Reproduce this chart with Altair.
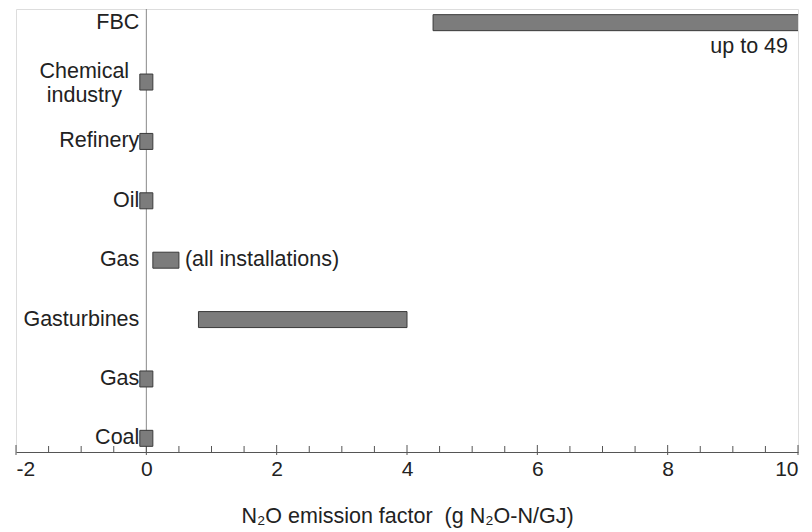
import altair as alt
import pandas as pd

# ---- data ----
row_ids = ["fbc", "chem", "refinery", "oil", "gas_all", "gasturbines", "gas", "coal"]
row_labels = ["FBC", "Chemical\nindustry", "Refinery", "Oil", "Gas", "Gasturbines", "Gas", "Coal"]
range_low = [4.4, -0.1, -0.1, -0.1, 0.1, 0.8, -0.1, -0.1]
range_high = [49.0, 0.1, 0.1, 0.1, 0.5, 4.0, 0.1, 0.1]

x_label_values = [-2, 0, 2, 4, 6, 8, 10]
minor_tick_values = [-1.5, -1, -0.5, 0.5, 1, 1.5, 2.5, 3, 3.5, 4.5, 5, 5.5,
                     6.5, 7, 7.5, 8.5, 9, 9.5]
major_tick_values = [-2, 0, 2, 4, 6, 8, 10]

note_rows = ["gas_all", "fbc"]
note_texts = ["(all installations)", "up to 49"]
note_x = [0.5, 10]

FONT = "Liberation Sans"
W, H = 782, 443

df = pd.DataFrame({"id": row_ids, "label": row_labels, "low": range_low, "high": range_high})
notes = pd.DataFrame({"id": note_rows, "text": note_texts, "x": note_x})
minor = pd.DataFrame({"x": minor_tick_values})
major = pd.DataFrame({"x": major_tick_values})

xscale = alt.Scale(domain=[-2, 10], nice=False, zero=False)
xaxis = alt.Axis(values=x_label_values, ticks=False, grid=False, domainColor="#555",
                 domainWidth=1, labelFontSize=21, labelPadding=6, labelColor="#222",
                 labelFont=FONT, labelExpr="'' + datum.value",
                 title="N\u2082O emission factor \u00a0(g N\u2082O-N/GJ)",
                 titleFontSize=21.5, titleFont=FONT, titleFontWeight="normal",
                 titleColor="#222", titlePadding=26)
yenc = alt.Y("id:N", scale=alt.Scale(type="point", domain=row_ids, padding=0.23), axis=None)

bars = alt.Chart(df).mark_bar(size=16, clip=True, fill="#7c7c7c", stroke="#3a3a3a",
                              strokeWidth=1).encode(
    x=alt.X("low:Q", scale=xscale, axis=xaxis),
    x2="high:Q",
    y=yenc,
)

zero_line = alt.Chart(minor).transform_filter("datum.x == 0.5").transform_calculate(
    zero="0"
).mark_rule(color="#888", strokeWidth=1).encode(
    x=alt.X("zero:Q", scale=xscale, axis=xaxis),
    y=alt.value(0), y2=alt.value(H),
)

minor_ticks = alt.Chart(minor).mark_rule(color="#555", strokeWidth=1).encode(
    x=alt.X("x:Q", scale=xscale, axis=xaxis),
    y=alt.value(H - 6), y2=alt.value(H),
)
major_ticks = alt.Chart(major).mark_rule(color="#555", strokeWidth=1).encode(
    x=alt.X("x:Q", scale=xscale, axis=xaxis),
    y=alt.value(H - 7), y2=alt.value(H + 3),
)

labels_main = alt.Chart(df).transform_filter("datum.id != 'chem'").transform_calculate(
    zero="0"
).mark_text(
    align="right", baseline="middle", dx=-7, fontSize=21.5, font=FONT, color="#222"
).encode(x=alt.X("zero:Q", scale=xscale, axis=xaxis), y=yenc, text="label:N")

labels_chem = alt.Chart(df).transform_filter("datum.id == 'chem'").transform_calculate(
    zero="0"
).mark_text(
    align="center", baseline="middle", dx=-62, dy=-10, fontSize=21.5, font=FONT, color="#222",
    lineBreak="\n", lineHeight=24
).encode(x=alt.X("zero:Q", scale=xscale, axis=xaxis), y=yenc, text="label:N")

note_left = alt.Chart(notes).transform_filter("datum.id == 'gas_all'").mark_text(
    align="left", baseline="middle", dx=6, fontSize=21.5, font=FONT, color="#222"
).encode(x=alt.X("x:Q", scale=xscale, axis=xaxis), y=yenc, text="text:N")

note_right = alt.Chart(notes).transform_filter("datum.id == 'fbc'").mark_text(
    align="right", baseline="middle", dx=-10, dy=24, fontSize=21.5, font=FONT, color="#222"
).encode(x=alt.X("x:Q", scale=xscale, axis=xaxis), y=yenc, text="text:N")

chart = alt.layer(
    zero_line, minor_ticks, major_ticks, bars, labels_main, labels_chem, note_left, note_right
).properties(
    width=W, height=H,
    autosize=alt.AutoSizeParams(type="none"),
    padding={"left": 8, "top": 1, "right": 6, "bottom": 76},
).configure_view(stroke="#999", strokeWidth=1).configure(background="white")

chart.save("out.html", embed_options={"renderer": "svg", "actions": False})
